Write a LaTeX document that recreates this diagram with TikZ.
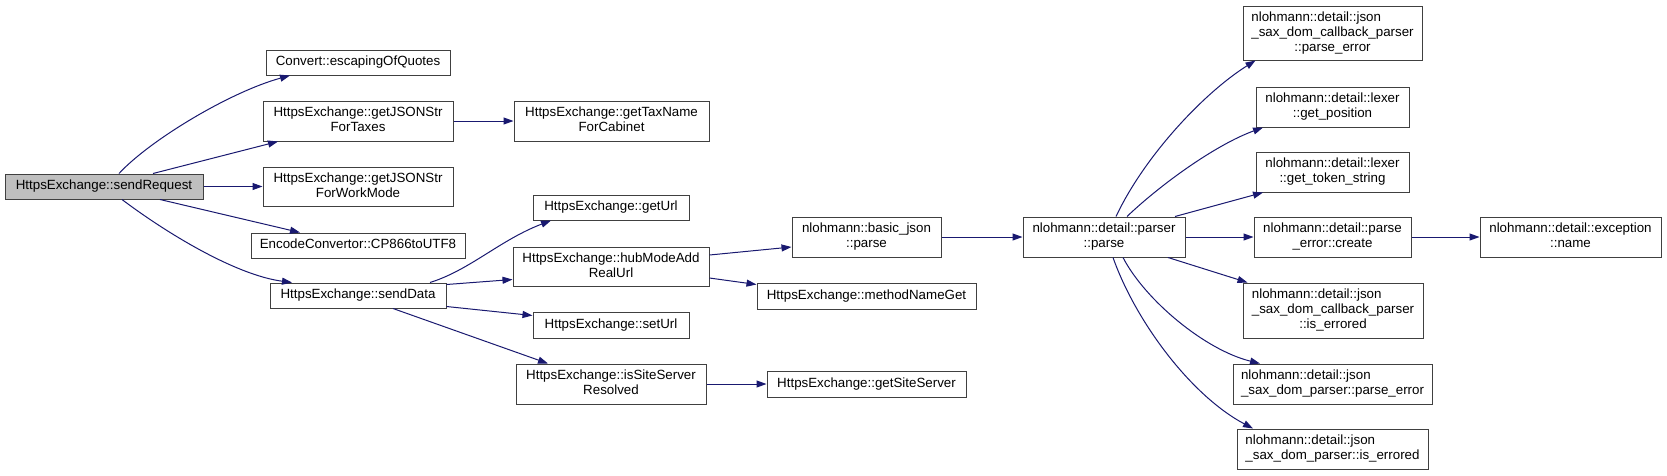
\documentclass[tikz,border=0pt]{standalone}
\usepackage{fontspec}
\setmainfont{Liberation Sans}
\usetikzlibrary{arrows.meta}
\definecolor{edgeblue}{HTML}{191970}
\definecolor{rootgray}{HTML}{BFBFBF}
\definecolor{boxline}{HTML}{404040}
\newcommand\ctext[1]{\begin{tabular}{@{}c@{}}#1\end{tabular}}
\newcommand\ltext[1]{\begin{tabular}{@{}l@{}}#1\end{tabular}}
\newcommand\lastc[1]{\multicolumn{1}{@{}c@{}}{#1}}
\newcommand\gvbox[7][]{\node[gbox,minimum width={#5-#3},minimum height={#6-#4},#1] (#2) at ({(#3+#5)/2},{(#4+#6)/2}) {#7};}
\begin{document}
\begin{tikzpicture}[x=1pt,y=-1pt,
  gbox/.style={draw=boxline,fill=white,line width=1pt,rectangle,inner sep=0pt,
    font=\fontsize{13.33}{15}\selectfont,text=black},
  call/.style={draw=edgeblue,line width=1pt,-{Triangle[length=10pt,width=7pt,fill=edgeblue]}}]
\fill[white] (0,0) rectangle (1667,475);
\useasboundingbox (0,0) rectangle (1667,475);
% nodes
\gvbox[fill=rootgray]{srq}{5}{174}{203}{199}{\ctext{HttpsExchange::sendRequest}}
\gvbox{conv}{266}{50}{450}{75}{\ctext{Convert::escapingOfQuotes}}
\gvbox{taxes}{263}{101}{453}{141}{\ctext{HttpsExchange::getJSONStr\\ForTaxes}}
\gvbox{wm}{263}{167}{453}{206}{\ctext{HttpsExchange::getJSONStr\\ForWorkMode}}
\gvbox{enc}{251}{233}{465}{258}{\ctext{EncodeConvertor::CP866toUTF8}}
\gvbox{sd}{270}{283}{446}{308}{\ctext{HttpsExchange::sendData}}
\gvbox{tn}{514}{101}{709}{141}{\ctext{HttpsExchange::getTaxName\\ForCabinet}}
\gvbox{gu}{533}{195}{689}{220}{\ctext{HttpsExchange::getUrl}}
\gvbox{hm}{513}{247}{709}{286}{\ctext{HttpsExchange::hubModeAdd\\RealUrl}}
\gvbox{su}{533}{312}{689}{338}{\ctext{HttpsExchange::setUrl}}
\gvbox{iss}{516}{364}{706}{404}{\ctext{HttpsExchange::isSiteServer\\Resolved}}
\gvbox{bj}{792}{217}{941}{257}{\ctext{nlohmann::basic\_json\\::parse}}
\gvbox{mng}{757}{283}{976}{309}{\ctext{HttpsExchange::methodNameGet}}
\gvbox{gss}{767}{371}{966}{397}{\ctext{HttpsExchange::getSiteServer}}
\gvbox{pp}{1023}{217}{1185}{257}{\ctext{nlohmann::detail::parser\\::parse}}
\gvbox{cbpe}{1243}{6}{1422}{60}{\ltext{nlohmann::detail::json\\\_sax\_dom\_callback\_parser\\\lastc{::parse\_error}}}
\gvbox{gpos}{1256}{87}{1409}{127}{\ctext{nlohmann::detail::lexer\\::get\_position}}
\gvbox{gtok}{1256}{152}{1409}{192}{\ctext{nlohmann::detail::lexer\\::get\_token\_string}}
\gvbox{cr}{1254}{217}{1411}{257}{\ctext{nlohmann::detail::parse\\\_error::create}}
\gvbox{iecb}{1243}{283}{1423}{338}{\ltext{nlohmann::detail::json\\\_sax\_dom\_callback\_parser\\\lastc{::is\_errored}}}
\gvbox{sxpe}{1233}{364}{1432}{404}{\ltext{nlohmann::detail::json\\\lastc{\_sax\_dom\_parser::parse\_error}}}
\gvbox{sxie}{1237}{429}{1428}{469}{\ltext{nlohmann::detail::json\\\lastc{\_sax\_dom\_parser::is\_errored}}}
\gvbox{nm}{1480}{217}{1661}{257}{\ctext{nlohmann::detail::exception\\::name}}
% connectors
\draw[call] ([xshift=15]srq.north) .. controls (150,140) and (230,92) .. ([xshift=-68]conv.south);
\draw[call] ([xshift=49]srq.north) -- ([xshift=-80]taxes.south);
\draw[call] (srq.east) -- (wm.west);
\draw[call] ([xshift=56]srq.south) -- ([xshift=-58]enc.north);
\draw[call] ([xshift=18]srq.south) .. controls (165,232) and (235,275) .. ([xshift=-66]sd.north);
\draw[call] (taxes.east) -- (tn.west);
\draw[call] ([xshift=72]sd.north) .. controls (470,270) and (500,240) .. ([xshift=-60]gu.south);
\draw[call] ([yshift=-2]sd.north east) -- ([yshift=7]hm.south west);
\draw[call] ([yshift=2]sd.south east) -- ([yshift=-4]su.north west);
\draw[call] ([xshift=35]sd.south) -- ([xshift=-63]iss.north);
\draw[call] ([yshift=11.5]hm.east) -- ([yshift=-10]bj.west);
\draw[call] ([yshift=-11.5]hm.east) -- ([yshift=-2]mng.north west);
\draw[call] (iss.east) -- (gss.west);
\draw[call] (bj.east) -- (pp.west);
\draw[call] ([xshift=12]pp.north) .. controls (1145,155) and (1205,92) .. ([xshift=-77]cbpe.south);
\draw[call] ([xshift=23]pp.north) .. controls (1160,185) and (1215,145) .. ([xshift=-69.5]gpos.south);
\draw[call] ([xshift=71]pp.north) -- ([xshift=-69.5]gtok.south);
\draw[call] (pp.east) -- (cr.west);
\draw[call] (cr.east) -- (nm.west);
\draw[call] ([xshift=64]pp.south) -- ([xshift=5]iecb.north west);
\draw[call] ([xshift=19]pp.south) .. controls (1145,300) and (1205,350) .. ([xshift=-72.5]sxpe.north);
\draw[call] ([xshift=9]pp.south) .. controls (1135,320) and (1190,395) .. ([xshift=-79.5]sxie.north);
\end{tikzpicture}
\end{document}
